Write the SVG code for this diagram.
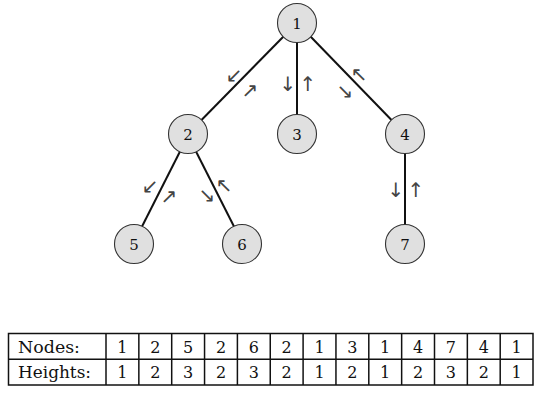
<svg xmlns="http://www.w3.org/2000/svg" width="542" height="406" viewBox="0 0 542 406">
<style>
.node circle{fill:#e0e0e0;stroke:#333;stroke-width:1.1}
.node text{font-family:"DejaVu Serif",serif;font-size:15px;text-anchor:middle;fill:#111}
.edge{stroke:#111;stroke-width:2;fill:none}
.arr{font-family:"DejaVu Sans",sans-serif;font-size:20px;text-anchor:middle;fill:#444}
.tbl line,.tbl rect{stroke:#111;stroke-width:1.5;fill:none}
.tbl text{font-family:"DejaVu Serif",serif;font-size:16px;text-anchor:middle;fill:#111}
</style>
<rect width="542" height="406" fill="#fff"/>
<g opacity="0.999">
<g id="connectors">
<line class="edge" x1="283.5" y1="36.5" x2="201.5" y2="120"/>
<line class="edge" x1="297" y1="42" x2="297" y2="115"/>
<line class="edge" x1="310.5" y1="36.5" x2="391.5" y2="120"/>
<line class="edge" x1="180" y1="151.5" x2="142" y2="226.5"/>
<line class="edge" x1="196" y1="151.5" x2="234" y2="226.5"/>
<line class="edge" x1="405" y1="153" x2="405" y2="225"/>
<text class="arr" x="234" y="82">↙&#xFE0E;</text>
<text class="arr" x="250" y="97">↗&#xFE0E;</text>
<text class="arr" x="288" y="91">↓&#xFE0E;</text>
<text class="arr" x="308" y="91">↑&#xFE0E;</text>
<text class="arr" x="359" y="81">↖&#xFE0E;</text>
<text class="arr" x="345" y="98">↘&#xFE0E;</text>
<text class="arr" x="150" y="193">↙&#xFE0E;</text>
<text class="arr" x="169" y="203">↗&#xFE0E;</text>
<text class="arr" x="207" y="202">↘&#xFE0E;</text>
<text class="arr" x="224" y="192">↖&#xFE0E;</text>
<text class="arr" x="396" y="197">↓&#xFE0E;</text>
<text class="arr" x="416" y="197">↑&#xFE0E;</text>
</g>
<g id="n1" class="node"><circle cx="297" cy="23" r="19.5"/><text x="297" y="28.5">1</text></g>
<g id="n2" class="node"><circle cx="188" cy="134" r="19.5"/><text x="188" y="139.5">2</text></g>
<g id="n3" class="node"><circle cx="297" cy="134" r="19.5"/><text x="297" y="139.5">3</text></g>
<g id="n4" class="node"><circle cx="405" cy="134" r="19.5"/><text x="405" y="139.5">4</text></g>
<g id="n5" class="node"><circle cx="134" cy="244" r="19.5"/><text x="134" y="249.5">5</text></g>
<g id="n6" class="node"><circle cx="242" cy="244" r="19.5"/><text x="242" y="249.5">6</text></g>
<g id="n7" class="node"><circle cx="405" cy="244" r="19.5"/><text x="405" y="249.5">7</text></g>
<g id="table" class="tbl">
<rect x="8.5" y="333.5" width="524.5" height="51.5"/>
<line x1="8.5" y1="359.25" x2="533" y2="359.25"/>
<line x1="106" y1="333.5" x2="106" y2="385"/>
<line x1="138.85" y1="333.5" x2="138.85" y2="385"/>
<line x1="171.7" y1="333.5" x2="171.7" y2="385"/>
<line x1="204.55" y1="333.5" x2="204.55" y2="385"/>
<line x1="237.4" y1="333.5" x2="237.4" y2="385"/>
<line x1="270.25" y1="333.5" x2="270.25" y2="385"/>
<line x1="303.1" y1="333.5" x2="303.1" y2="385"/>
<line x1="335.95" y1="333.5" x2="335.95" y2="385"/>
<line x1="368.8" y1="333.5" x2="368.8" y2="385"/>
<line x1="401.65" y1="333.5" x2="401.65" y2="385"/>
<line x1="434.5" y1="333.5" x2="434.5" y2="385"/>
<line x1="467.35" y1="333.5" x2="467.35" y2="385"/>
<line x1="500.2" y1="333.5" x2="500.2" y2="385"/>
<text x="18" y="352.5" style="text-anchor:start;font-size:17px" textLength="62" lengthAdjust="spacingAndGlyphs">Nodes:</text>
<text x="18" y="378" style="text-anchor:start;font-size:17px" textLength="73" lengthAdjust="spacingAndGlyphs">Heights:</text>
<g>
<text x="122.4" y="352.5">1</text><text x="155.3" y="352.5">2</text><text x="188.1" y="352.5">5</text><text x="221" y="352.5">2</text><text x="253.8" y="352.5">6</text><text x="286.7" y="352.5">2</text><text x="319.5" y="352.5">1</text><text x="352.4" y="352.5">3</text><text x="385.2" y="352.5">1</text><text x="418.1" y="352.5">4</text><text x="450.9" y="352.5">7</text><text x="483.8" y="352.5">4</text><text x="516.6" y="352.5">1</text>
</g>
<g>
<text x="122.4" y="378">1</text><text x="155.3" y="378">2</text><text x="188.1" y="378">3</text><text x="221" y="378">2</text><text x="253.8" y="378">3</text><text x="286.7" y="378">2</text><text x="319.5" y="378">1</text><text x="352.4" y="378">2</text><text x="385.2" y="378">1</text><text x="418.1" y="378">2</text><text x="450.9" y="378">3</text><text x="483.8" y="378">2</text><text x="516.6" y="378">1</text>
</g>
</g>
</g>
</svg>
